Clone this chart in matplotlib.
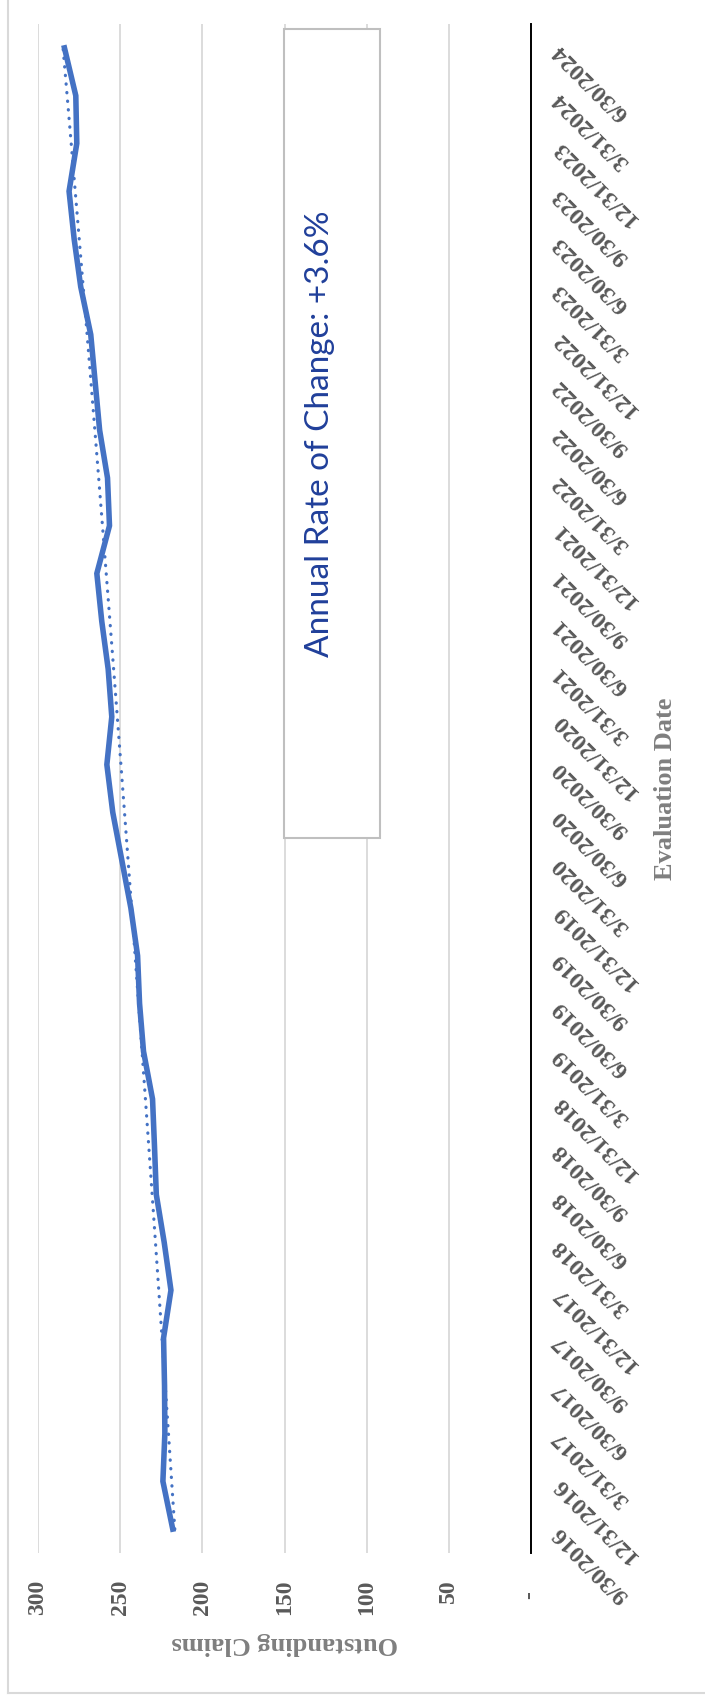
import numpy as np
import matplotlib
matplotlib.use("Agg")
import matplotlib.pyplot as plt
from matplotlib.lines import Line2D
from matplotlib.patches import Rectangle

# quarterly evaluation dates (chart is drawn rotated: dates run bottom -> top)
dates = ["9/30/2016", "12/31/2016", "3/31/2017", "6/30/2017", "9/30/2017", "12/31/2017",
         "3/31/2018", "6/30/2018", "9/30/2018", "12/31/2018", "3/31/2019", "6/30/2019",
         "9/30/2019", "12/31/2019", "3/31/2020", "6/30/2020", "9/30/2020", "12/31/2020",
         "3/31/2021", "6/30/2021", "9/30/2021", "12/31/2021", "3/31/2022", "6/30/2022",
         "9/30/2022", "12/31/2022", "3/31/2023", "6/30/2023", "9/30/2023", "12/31/2023",
         "3/31/2024", "6/30/2024"]
claims = [218, 224, 222.8, 223, 223.6, 219.1, 223.2, 228, 229.1, 230.3, 235.8, 238.2,
          239.4, 243.5, 249, 254.5, 258.1, 255.1, 257.3, 261.2, 264.2, 256.5, 257.7, 262.5,
          265.2, 267.9, 274, 278, 281.1, 276.4, 277, 283.9]
val_ticks = [0, 50, 100, 150, 200, 250, 300]
val_labels = ["-  ", "50", "100", "150", "200", "250", "300"]
rate_text = "Annual Rate of Change: +3.6%"

W, H = 705, 1700
fig = plt.figure(figsize=(W / 100, H / 100), dpi=100)
fig.patch.set_facecolor("white")

# plot area in pixels
px_l, px_r, px_t, px_b = 38, 531, 24, 1553
ax = fig.add_axes([px_l / W, 1 - px_b / H, (px_r - px_l) / W, (px_b - px_t) / H])

idx = np.arange(len(claims))
vals = np.array(claims)

# exponential trendline like Excel's
b, a = np.polyfit(idx, np.log(vals), 1)
trend = np.exp(a + b * idx)

ax.plot(vals, idx, color="#4472C4", lw=4.0, solid_joinstyle="miter", zorder=3)
ax.plot(trend, idx, color="#4472C4", lw=2.3, linestyle=(0, (0.1, 2.6)),
        dash_capstyle="round", zorder=4)

ax.set_xlim(300, 0)
ax.set_ylim(-0.5, len(claims) - 0.5)

for s in ["top", "left", "bottom"]:
    ax.spines[s].set_visible(False)
ax.spines["right"].set_color("black")
ax.spines["right"].set_linewidth(1.4)
ax.xaxis.grid(True, color="#d9d9d9", lw=1.3)
ax.set_axisbelow(True)

tick_font = dict(family="Liberation Serif", weight="bold", color="#595959")

ax.set_xticks(val_ticks)
ax.set_xticklabels(val_labels, rotation=90, fontsize=17, **tick_font)
ax.tick_params(axis="x", length=0, pad=19)

ax.yaxis.tick_right()
ax.set_yticks(idx)
ax.set_yticklabels(dates, rotation=135, rotation_mode="anchor", ha="right", va="center",
                   fontsize=17.5, **tick_font)
ax.tick_params(axis="y", length=0, pad=18)

title_font = dict(family="Liberation Serif", weight="bold", color="#7f7f7f", fontsize=19)
fig.text((px_l + px_r) / 2 / W, 1 - 1643 / H, "Outstanding Claims", rotation=180,
         ha="center", va="center", **title_font)
fig.text(666 / W, 1 - (px_t + px_b) / 2 / H, "Evaluation Date", rotation=90,
         ha="center", va="center", **title_font)

# text box with the annual rate
bx0, bx1, by0, by1 = 284, 380, 29, 838
fig.add_artist(Rectangle((bx0 / W, 1 - by1 / H), (bx1 - bx0) / W, (by1 - by0) / H,
                         transform=fig.transFigure, facecolor="white",
                         edgecolor="#bfbfbf", lw=1.5, zorder=5))
fig.text(320 / W, 1 - (by0 + by1) / 2 / H, rate_text, rotation=90, ha="center",
         va="center", family="Lato", fontsize=24, color="#203f9a", zorder=6)

# outer chart border (left and bottom edges visible)
fig.add_artist(Line2D([8 / W, 8 / W], [1, 1 - 1693 / H], transform=fig.transFigure,
                      color="#d9d9d9", lw=1.5))
fig.add_artist(Line2D([8 / W, 1], [1 - 1693 / H, 1 - 1693 / H], transform=fig.transFigure,
                      color="#d9d9d9", lw=1.5))

fig.savefig("out.png", dpi=100, facecolor="white")
